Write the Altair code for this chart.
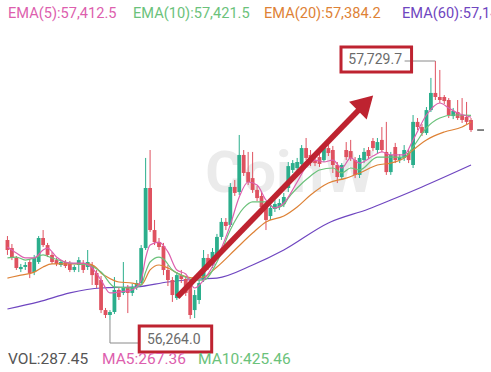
import altair as alt
import pandas as pd

GREEN = "#2bae8c"
RED = "#df5260"
C_EMA5 = "#dd5fae"
C_EMA10 = "#6bc27b"
C_EMA20 = "#de8236"
C_EMA60 = "#6f46c0"
ANN = "#be2330"
GRID = "#f0f0f0"
FONT = "Roboto"

# ---- candle data (price) ----
idx = list(range(105))
opens = [56717, 56671, 56615, 56552, 56564, 56592, 56535, 56592, 56728, 56688,
         56632, 56603, 56575, 56592, 56586, 56547, 56575, 56586, 56564, 56575,
         56530, 56490, 56320, 56292, 56309, 56434, 56417, 56451, 56417, 56451,
         56473, 56671, 57011, 56773, 56705, 56683, 56547, 56490, 56388, 56518,
         56496, 56462, 56320, 56377, 56490, 56615, 56575, 56632, 56734, 56819,
         56802, 57017, 56988, 57198, 57101, 57067, 57000, 56966, 56915, 56852,
         56892, 56903, 56920, 57011, 57113, 57124, 57147, 57237, 57198, 57169,
         57186, 57169, 57237, 57226, 57141, 57073, 57226, 57220, 57169, 57085,
         57169, 57226, 57277, 57226, 57283, 57215, 57101, 57243, 57169, 57181,
         57209, 57141, 57385, 57356, 57322, 57452, 57549, 57526, 57526, 57509,
         57418, 57441, 57424, 57413, 57396]
closes = [56660, 56615, 56558, 56564, 56575, 56530, 56615, 56728, 56688, 56632,
          56592, 56581, 56592, 56569, 56547, 56564, 56603, 56547, 56592, 56518,
          56462, 56320, 56292, 56309, 56434, 56394, 56451, 56417, 56451, 56473,
          56671, 57011, 56773, 56705, 56677, 56547, 56490, 56405, 56518, 56496,
          56417, 56292, 56405, 56473, 56615, 56564, 56649, 56734, 56819, 56796,
          57017, 56983, 57198, 57096, 57045, 57000, 56954, 56903, 56830, 56898,
          56920, 56926, 56960, 57135, 57152, 57158, 57237, 57181, 57152, 57152,
          57147, 57237, 57209, 57141, 57073, 57141, 57186, 57181, 57085, 57181,
          57215, 57192, 57237, 57271, 57226, 57101, 57198, 57169, 57186, 57226,
          57169, 57385, 57356, 57322, 57452, 57549, 57526, 57509, 57503, 57424,
          57447, 57407, 57396, 57385, 57339]
highs = [56739, 56694, 56626, 56581, 56592, 56609, 56632, 56739, 56773, 56700,
         56649, 56615, 56603, 56603, 56598, 56575, 56620, 56603, 56660, 56592,
         56547, 56513, 56332, 56320, 56507, 56445, 56592, 56462, 56468, 56490,
         56688, 57181, 57226, 56830, 56728, 56700, 56575, 56507, 56535, 56547,
         56513, 56479, 56434, 56490, 56660, 56637, 56671, 56751, 56841, 56841,
         57039, 57056, 57311, 57226, 57215, 57215, 57022, 56988, 56932, 56915,
         56943, 56949, 56983, 57158, 57169, 57181, 57254, 57294, 57226, 57186,
         57209, 57254, 57283, 57249, 57158, 57152, 57271, 57283, 57186, 57198,
         57237, 57243, 57294, 57294, 57356, 57385, 57215, 57266, 57203, 57254,
         57232, 57424, 57407, 57373, 57469, 57634, 57729.7, 57679, 57537, 57520,
         57464, 57509, 57520, 57498, 57407]
lows = [56632, 56603, 56547, 56535, 56547, 56501, 56518, 56581, 56677, 56620,
        56581, 56569, 56564, 56558, 56535, 56535, 56535, 56530, 56547, 56462,
        56445, 56303, 56275, 56264.0, 56298, 56377, 56405, 56303, 56400, 56434,
        56462, 56660, 56762, 56688, 56660, 56518, 56456, 56366, 56377, 56473,
        56400, 56270, 56275, 56354, 56479, 56547, 56558, 56615, 56717, 56773,
        56790, 56966, 56971, 57079, 57028, 56983, 56937, 56886, 56773, 56830,
        56875, 56886, 56903, 56988, 57096, 57101, 57130, 57169, 57135, 57135,
        57130, 57158, 57192, 57096, 57039, 57056, 57169, 57164, 57067, 57067,
        57152, 57175, 57220, 57209, 57215, 57085, 57085, 57152, 57152, 57164,
        57152, 57124, 57339, 57305, 57311, 57441, 57509, 57492, 57486, 57407,
        57401, 57396, 57379, 57373, 57328]

# ---- moving-average lines ----
ema5_idx = [0, 2, 4, 6, 8, 9, 11, 14, 17, 19, 21, 23, 25, 28, 30, 31, 32, 34, 36, 38,
            40, 42, 44, 47, 50, 52, 54, 56, 58, 60, 62, 65, 67, 69, 71, 73, 75, 77, 79, 82,
            84, 86, 89, 91, 94, 97, 99, 101, 104]
ema5_val = [56677, 56643, 56615, 56615, 56660, 56671, 56620, 56586, 56586, 56558,
            56490, 56417, 56422, 56434, 56490, 56615, 56688, 56705, 56649, 56547,
            56524, 56445, 56490, 56615, 56802, 56960, 57045, 57028, 56943, 56898,
            56926, 57045, 57130, 57169, 57158, 57169, 57124, 57181, 57152, 57192,
            57215, 57198, 57198, 57283, 57424, 57492, 57464, 57435, 57412.5]
ema10_idx = [0, 2, 4, 6, 8, 10, 14, 18, 21, 24, 28, 30, 31, 32, 34, 35, 37, 39, 42, 44,
             47, 50, 53, 55, 58, 60, 62, 63, 65, 68, 70, 73, 75, 77, 79, 83, 86, 89, 91, 94,
             97, 100, 102, 104]
ema10_val = [56615, 56620, 56603, 56615, 56632, 56615, 56586, 56575, 56535, 56451,
             56445, 56462, 56535, 56592, 56620, 56609, 56547, 56518, 56490, 56490,
             56592, 56773, 56898, 56932, 56932, 56898, 56915, 56954, 57011, 57079,
             57113, 57124, 57096, 57124, 57113, 57186, 57186, 57186, 57243, 57351,
             57407, 57424, 57424, 57421.5]
ema20_idx = [0, 3, 6, 8, 10, 14, 18, 20, 21, 22, 25, 28, 30, 32, 34, 36, 39, 42, 44, 47,
             51, 55, 58, 62, 65, 68, 72, 76, 79, 83, 86, 89, 91, 94, 98, 102, 104]
ema20_val = [56501, 56518, 56535, 56564, 56581, 56581, 56581, 56558, 56530, 56513,
             56479, 56473, 56462, 56547, 56575, 56558, 56518, 56501, 56507, 56564,
             56660, 56756, 56819, 56852, 56903, 56971, 57039, 57067, 57096, 57141,
             57152, 57181, 57226, 57283, 57328, 57356, 57384.2]
ema60_idx = [0, 7, 14, 21, 29, 36, 43, 47, 55, 62, 72, 81, 86, 93, 104]
ema60_val = [56326, 56366, 56417, 56445, 56451, 56479, 56496, 56501, 56575, 56660,
             56813, 56892, 56943, 57017, 57141]

legend_top = ["EMA(5):57,412.5", "EMA(10):57,421.5", "EMA(20):57,384.2", "EMA(60):57,141.6"]
legend_bottom = ["VOL:287.45", "MA5:267.36", "MA10:425.46"]
high_label = "57,729.7"
low_label = "56,264.0"
watermark = "CoinW"

candles = pd.DataFrame({"i": idx, "open": opens, "close": closes,
                        "high": highs, "low": lows})

xs = alt.Scale(domain=[-0.55, 107.36], nice=False, zero=False)
ys = alt.Scale(domain=[55969.5, 58075], nice=False, zero=False)

up = alt.condition("datum.close >= datum.open", alt.value(GREEN), alt.value(RED))

grid_layer = alt.Chart(candles).mark_rule(strokeWidth=1).encode(
    x=alt.X("i:Q", scale=xs,
            axis=alt.Axis(values=[31.76, 63.6, 95.93], grid=True, gridColor=GRID,
                          gridWidth=1, labels=False, ticks=False, domain=False, title=None)),
    y=alt.Y("low:Q", scale=ys,
            axis=alt.Axis(values=[57786, 57220, 56660, 56094], grid=True, gridColor=GRID,
                          gridWidth=1, labels=False, ticks=False, domain=False, title=None)),
    y2="high:Q",
    color=up,
    opacity=alt.value(0),
)
wicks = alt.Chart(candles).mark_rule(strokeWidth=1).encode(
    x=alt.X("i:Q", scale=xs, axis=None),
    y=alt.Y("low:Q", scale=ys, axis=None),
    y2="high:Q",
    color=up,
)
bodies = alt.Chart(candles).mark_bar(width=3.8).encode(
    x=alt.X("i:Q", scale=xs, axis=None),
    y=alt.Y("open:Q", scale=ys, axis=None),
    y2="close:Q",
    color=up,
)


def ema_line(ix, vals, color):
    df = pd.DataFrame({"i": ix, "v": vals})
    return alt.Chart(df).mark_line(color=color, strokeWidth=1.2, interpolate="monotone").encode(
        x=alt.X("i:Q", scale=xs, axis=None),
        y=alt.Y("v:Q", scale=ys, axis=None),
    )


def one():
    return pd.DataFrame({"k": [0]})


def pix_text(s, x, y, color, size, align="left", weight="normal"):
    return alt.Chart(pd.DataFrame({"t": [s]})).mark_text(
        align=align, baseline="middle", fontSize=size, font=FONT, color=color,
        fontWeight=weight).encode(x=alt.value(x), y=alt.value(y), text="t:N")


wm = pix_text(watermark, 290, 175, "#ebebeb", 58, align="center", weight="bold")

top = [
    pix_text(legend_top[0], 8, 14, C_EMA5, 14.6),
    pix_text(legend_top[1], 133, 14, C_EMA10, 14.6),
    pix_text(legend_top[2], 264, 14, C_EMA20, 14.6),
    pix_text(legend_top[3], 402, 14, C_EMA60, 14.6),
]
bottom = [
    pix_text(legend_bottom[0], 8, 359, "#555555", 15.5),
    pix_text(legend_bottom[1], 102, 359, C_EMA5, 15.5),
    pix_text(legend_bottom[2], 198, 359, C_EMA10, 15.5),
]

# annotation: high
hi_leader = alt.Chart(one()).mark_rule(color="#8a8a8a", strokeWidth=1).encode(
    x=alt.datum(89.1), x2=alt.datum(96), y=alt.datum(57729.7))
hi_box = alt.Chart(one()).mark_rect(fill="white", fillOpacity=0, stroke=ANN, strokeWidth=3).encode(
    x=alt.datum(74.83), x2=alt.datum(90.66), y=alt.datum(57809), y2=alt.datum(57667.5))
hi_text = alt.Chart(pd.DataFrame({"t": [high_label]})).mark_text(
    align="center", baseline="middle", fontSize=14, font=FONT, color="#6b6b6b").encode(
    x=alt.datum(82.5), y=alt.datum(57735), text="t:N")

# annotation: low
lo_leader_v = alt.Chart(one()).mark_rule(color="#8a8a8a", strokeWidth=1).encode(
    x=alt.datum(23), y=alt.datum(56264.0), y2=alt.datum(56133.6))
lo_leader_h = alt.Chart(one()).mark_rule(color="#8a8a8a", strokeWidth=1).encode(
    x=alt.datum(23), x2=alt.datum(29.56), y=alt.datum(56133.6))
lo_box = alt.Chart(one()).mark_rect(fill="white", fillOpacity=0, stroke=ANN, strokeWidth=3).encode(
    x=alt.datum(29.56), x2=alt.datum(45.82), y=alt.datum(56229.8), y2=alt.datum(56082.7))
lo_text = alt.Chart(pd.DataFrame({"t": [low_label]})).mark_text(
    align="center", baseline="middle", fontSize=14, font=FONT, color="#6b6b6b").encode(
    x=alt.datum(37.3), y=alt.datum(56153), text="t:N")

# arrow
shaft = alt.Chart(one()).mark_rule(color=ANN, strokeWidth=5.5, strokeCap="butt").encode(
    x=alt.datum(38.13), x2=alt.datum(80.33), y=alt.datum(56394), y2=alt.datum(57492))
head = alt.Chart(one()).mark_point(shape="triangle-up", angle=45, size=620, filled=True,
                                   color=ANN, opacity=1).encode(
    x=alt.datum(80.33), y=alt.datum(57492))

# last price tick
last_tick = alt.Chart(one()).mark_rule(color="#333333", strokeWidth=1.2).encode(
    x=alt.datum(105.38), x2=alt.datum(106.92), y=alt.datum(closes[-1]))

chart = alt.layer(
    grid_layer, wm,
    ema_line(ema60_idx, ema60_val, C_EMA60),
    wicks,
    bodies,
    ema_line(ema20_idx, ema20_val, C_EMA20),
    ema_line(ema10_idx, ema10_val, C_EMA10),
    ema_line(ema5_idx, ema5_val, C_EMA5),
    hi_leader, hi_box, hi_text,
    lo_leader_v, lo_leader_h, lo_box, lo_text,
    shaft, head, last_tick,
    *top, *bottom,
).properties(
    width=491, height=372, padding=0,
    autosize=alt.AutoSizeParams(type="none"),
    background="white",
).configure_view(stroke=None)

chart.save("out.html", embed_options={"renderer": "svg", "actions": False})
